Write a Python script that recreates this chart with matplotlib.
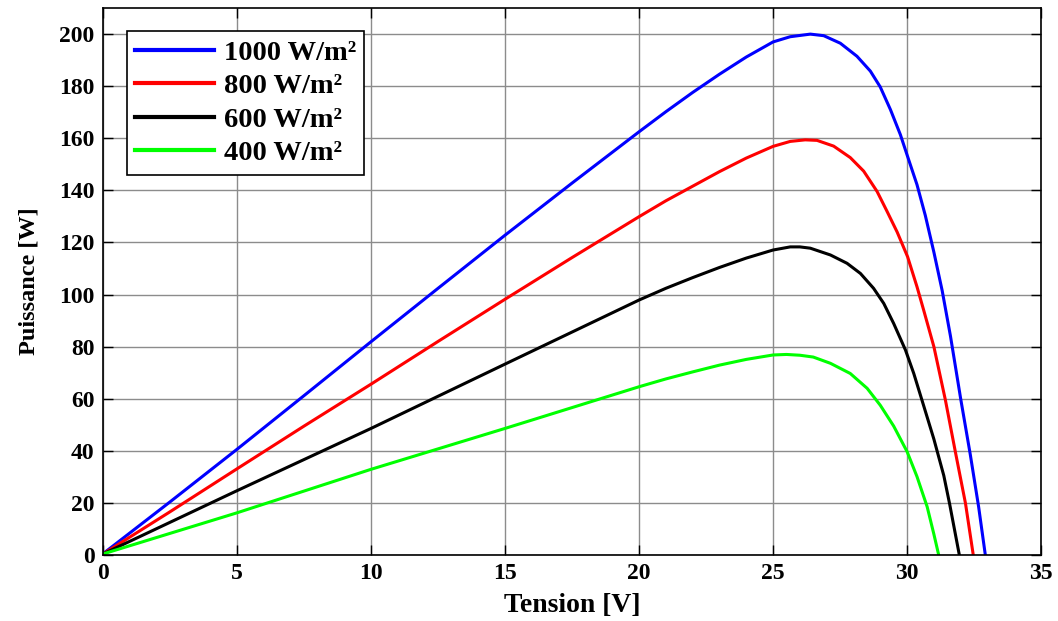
import matplotlib
matplotlib.use('Agg')
import matplotlib.pyplot as plt

# Caractéristiques P(V) du panneau pour différents éclairements
v_1000 = [0, 2.5, 5, 7.5, 10, 12.5, 15, 17.5, 20, 21, 22, 23, 24, 25, 25.64, 26.39, 26.89, 27.51,
          28.13, 28.63, 29.0, 29.38, 29.75, 30.02, 30.37, 30.68, 31.0, 31.31, 31.62, 32.0, 32.36,
          32.67, 32.92]
p_1000 = [0.5, 20.4, 40.6, 61.2, 81.9, 102.4, 122.8, 142.8, 162.5, 170.2, 177.6, 184.6, 191.2,
          197.0, 199.0, 200.0, 199.4, 196.5, 191.5, 185.8, 179.7, 171.0, 161.4, 153.0, 142.2,
          130.4, 116.3, 101.5, 84.0, 60.0, 38.5, 18.5, 0]

v_800 = [0, 2.5, 5, 7.5, 10, 12.5, 15, 17.5, 20, 21, 22, 23, 24, 25, 25.64, 26.2, 26.64, 27.26,
         27.88, 28.38, 28.88, 29.25, 29.63, 30.02, 30.37, 30.62, 31.0, 31.43, 31.8, 32.18, 32.47]
p_800 = [0.4, 16.6, 33.1, 49.5, 65.6, 82.0, 98.2, 114.2, 129.9, 136.0, 141.6, 147.2, 152.4, 156.9,
         158.8, 159.4, 159.2, 157.0, 152.6, 147.4, 139.6, 132.0, 124.0, 114.5, 103.0, 94.0, 80.0,
         59.5, 39.7, 19.8, 0]

v_600 = [0, 5, 10, 15, 20, 21, 22, 23, 24, 25, 25.64, 26.0, 26.39, 27.14, 27.76, 28.26, 28.75,
         29.13, 29.5, 29.94, 30.25, 30.62, 31.0, 31.37, 31.59, 31.95]
p_600 = [0.4, 24.7, 48.6, 73.3, 97.9, 102.4, 106.5, 110.4, 114.0, 117.1, 118.3, 118.3, 117.8,
         115.2, 112.0, 108.1, 102.4, 96.6, 88.9, 78.7, 69.7, 57.3, 44.5, 30.5, 19.5, 0]

v_400 = [0, 5, 10, 15, 20, 21, 22, 23, 24, 25, 25.5, 26.0, 26.5, 27.14, 27.88, 28.51, 29.0, 29.5,
         30.0, 30.37, 30.75, 31.0, 31.18]
p_400 = [0.4, 16.2, 32.9, 48.6, 64.6, 67.6, 70.3, 72.9, 75.1, 76.8, 77.0, 76.7, 76.0, 73.6, 69.7,
         64.0, 57.5, 49.5, 39.7, 30.1, 18.5, 8.0, 0]

labels = ['1000 W/m²', '800 W/m²', '600 W/m²', '400 W/m²']
couleurs = ['#0000ff', '#ff0000', '#000000', '#00ff00']

plt.rcParams['font.family'] = ['Liberation Serif', 'DejaVu Serif']
plt.rcParams['font.weight'] = 'bold'

fig = plt.figure(figsize=(10.58, 6.21), dpi=100)
ax = fig.add_axes([0.0974, 0.1063, 0.8866, 0.8807])

series = [(v_1000, p_1000), (v_800, p_800), (v_600, p_600), (v_400, p_400)]
for (v, p), lab, c in zip(series, labels, couleurs):
    ax.plot(v, p, color=c, lw=2.2, label=lab, solid_joinstyle='round')

ax.set_xlim(0, 35)
ax.set_ylim(0, 210)
ax.set_xticks(range(0, 36, 5))
ax.set_yticks(range(0, 201, 20))
ax.grid(True, color='#8c8c8c', lw=1.0)
ax.tick_params(direction='in', length=7, width=1, top=True, right=True,
               labelsize=17, pad=6)
for lbl in ax.get_xticklabels() + ax.get_yticklabels():
    lbl.set_fontweight('bold')
for s in ax.spines.values():
    s.set_linewidth(1.2)

ax.set_xlabel('Tension [V]', fontsize=20, fontweight='bold', labelpad=6)
ax.set_ylabel('Puissance [W]', fontsize=17.5, fontweight='bold', labelpad=14)

leg = ax.legend(loc='upper left', bbox_to_anchor=(0.0253, 0.958), fontsize=20.5,
                handlelength=2.75, handletextpad=0.35, labelspacing=0.27,
                borderpad=0.3, borderaxespad=0, fancybox=False, framealpha=1)
leg.get_frame().set_edgecolor('black')
leg.get_frame().set_linewidth(1.2)
for line in leg.get_lines():
    line.set_linewidth(3)
for t in leg.get_texts():
    t.set_fontweight('bold')

fig.savefig('out.png', dpi=100)
